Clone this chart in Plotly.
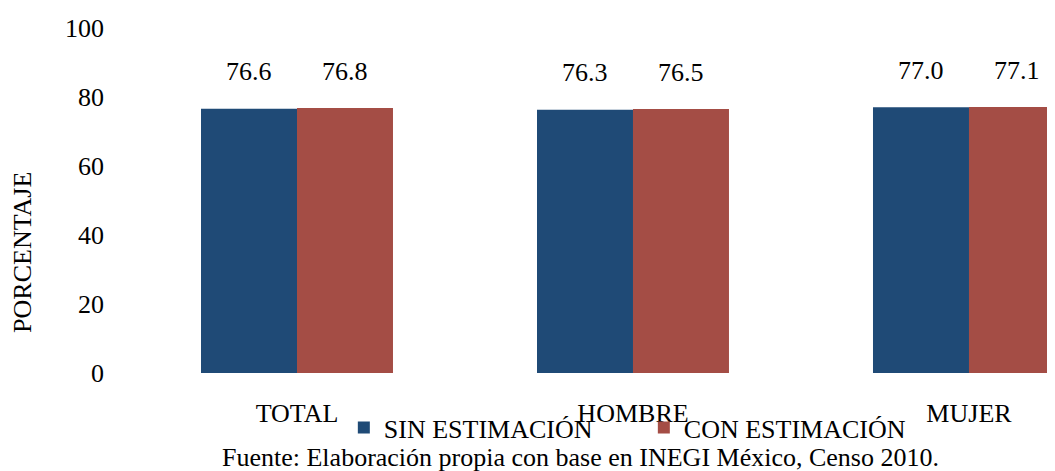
import plotly.graph_objects as go

categories = ["TOTAL", "HOMBRE", "MUJER"]
sin_estimacion = [76.6, 76.3, 77.0]
con_estimacion = [76.8, 76.5, 77.1]
series_names = ["SIN ESTIMACIÓN", "CON ESTIMACIÓN"]
y_ticks = [0, 20, 40, 60, 80, 100]

FONT = "Liberation Serif, Times New Roman, serif"
FS = 26
BLUE = "#1F4A76"
RED = "#A44D45"

fig = go.Figure()
fig.add_trace(go.Bar(x=categories, y=sin_estimacion, name=series_names[0],
                     marker=dict(color=BLUE, line=dict(width=0))))
fig.add_trace(go.Bar(x=categories, y=con_estimacion, name=series_names[1],
                     marker=dict(color=RED, line=dict(width=0))))

annotations = []
for vals, shift in [(sin_estimacion, -48), (con_estimacion, 48)]:
    for c, v in zip(categories, vals):
        annotations.append(dict(x=c, y=v, xref="x", yref="y", text=f"{v:.1f}",
                                showarrow=False, xshift=shift, yshift=37,
                                xanchor="center", yanchor="middle",
                                font=dict(family=FONT, size=FS, color="black")))
annotations.append(dict(x=-0.1145, y=0.351, xref="paper", yref="paper", text="PORCENTAJE",
                        textangle=-90, showarrow=False, xanchor="center", yanchor="middle",
                        font=dict(family=FONT, size=FS, color="black")))
annotations.append(dict(x=0.488, y=-0.246, xref="paper", yref="paper",
                        text="Fuente: Elaboración propia con base en INEGI México, Censo 2010.",
                        showarrow=False, xanchor="center", yanchor="middle",
                        font=dict(family=FONT, size=FS, color="black")))

fig.update_layout(
    width=1047, height=463,
    margin=dict(l=121, r=0, t=20, b=98),
    paper_bgcolor="white", plot_bgcolor="white",
    barmode="group", bargap=0.4286, bargroupgap=0,
    font=dict(family=FONT, size=FS, color="black"),
    showlegend=True,
    legend=dict(orientation="h", x=0.232, y=-0.158, xanchor="left", yanchor="middle",
                entrywidth=255, entrywidthmode="pixels", itemwidth=30,
                font=dict(family=FONT, size=FS, color="black"),
                bgcolor="rgba(0,0,0,0)", tracegroupgap=0),
    xaxis=dict(range=[-0.5, 2.256], showgrid=False, showline=False, zeroline=False,
               ticks="", ticklabelstandoff=22, tickfont=dict(family=FONT, size=FS)),
    yaxis=dict(range=[0, 100], tickvals=y_ticks, showgrid=False, showline=False,
               zeroline=False, ticks="", ticklabelstandoff=24,
               tickfont=dict(family=FONT, size=FS)),
    annotations=annotations,
)

fig.write_html("out.html")
